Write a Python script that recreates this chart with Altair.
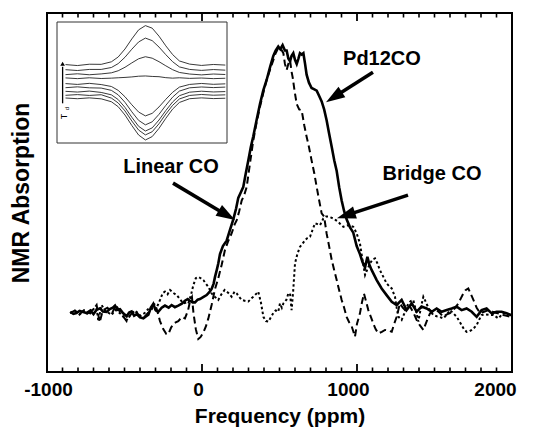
import math
import altair as alt
import pandas as pd

# ---------------- data ----------------
# Pd12CO (solid)
solid_ppm = [-850, -830, -810, -790, -766, -745, -720, -700, -680, -658, -640, -615, -595, -575, -561, -545,
             -529, -510, -486, -470, -454, -438, -421, -400, -378, -360, -346, -330, -314, -300, -282, -260,
             -239, -215, -196, -175, -153, -130, -110, -92, -77, -60, -45, -28, -13, 10, 30, 50, 62, 75, 84,
             95, 105, 116, 135, 159, 180, 202, 220, 234, 250, 266, 282, 299, 315, 331, 352, 374, 395, 417,
             440, 460, 475, 492, 505, 520, 535, 546, 557, 568, 578, 589, 600, 611, 622, 632, 643, 654, 665,
             675, 690, 707, 725, 740, 756, 772, 788, 804, 820, 837, 853, 869, 885, 901, 917, 933, 955, 976,
             998, 1019, 1036, 1052, 1067, 1080, 1095, 1127, 1159, 1191, 1224, 1256, 1288, 1320, 1353, 1385,
             1417, 1449, 1482, 1514, 1546, 1579, 1611, 1643, 1675, 1707, 1740, 1772, 1804, 1836, 1869, 1901,
             1933, 1965, 1998]
solid_abs = [0.005, -0.003, 0.0, 0.008, 0.004, 0.0, 0.01, -0.004, 0.012, 0.018, 0.006, 0.004, 0.015, 0.02,
             0.028, 0.012, 0.014, 0.0, -0.012, 0.002, 0.006, -0.01, -0.004, -0.016, -0.02, -0.012, -0.006,
             0.02, 0.034, 0.012, 0.005, 0.02, 0.028, 0.02, 0.03, 0.022, 0.028, 0.035, 0.046, 0.052, 0.045,
             0.04, 0.04, 0.05, 0.052, 0.06, 0.067, 0.08, 0.09, 0.11, 0.135, 0.16, 0.185, 0.22, 0.25, 0.27,
             0.31, 0.35, 0.39, 0.43, 0.45, 0.47, 0.52, 0.57, 0.62, 0.66, 0.72, 0.78, 0.83, 0.87, 0.92, 0.96,
             0.98, 0.995, 0.985, 1.0, 0.98, 0.98, 0.95, 0.94, 0.96, 0.97, 0.945, 0.93, 0.95, 0.97, 0.965,
             0.97, 0.93, 0.89, 0.86, 0.84, 0.835, 0.83, 0.81, 0.79, 0.76, 0.72, 0.67, 0.62, 0.57, 0.53, 0.47,
             0.42, 0.38, 0.35, 0.32, 0.30, 0.25, 0.22, 0.19, 0.17, 0.21, 0.18, 0.16, 0.123, 0.092, 0.067,
             0.042, 0.03, 0.049, 0.011, 0.036, 0.005, 0.024, 0.017, 0.005, 0.017, 0.005, 0.011, 0.017, 0.024,
             0.011, 0.017, 0.005, -0.014, 0.011, 0.017, -0.001, 0.005, 0.005, -0.001, -0.008]

# Linear CO (dashed)
linear_ppm = [-850, -820, -790, -760, -730, -700, -680, -660, -640, -610, -580, -555, -530, -505, -486, -465,
              -440, -410, -380, -350, -325, -303, -285, -271, -250, -230, -217, -200, -185, -170, -153, -130,
              -110, -90, -75, -65, -55, -40, -24, -10, 9, 25, 41, 62, 84, 105, 127, 148, 170, 191, 210, 224,
              240, 256, 272, 288, 310, 331, 352, 374, 395, 417, 440, 460, 475, 492, 510, 525, 535, 546, 557,
              568, 578, 585, 597, 611, 627, 643, 660, 675, 690, 707, 725, 740, 756, 772, 788, 804, 820, 837,
              853, 869, 885, 901, 917, 933, 950, 966, 977, 987, 1000, 1019, 1032, 1045, 1060, 1073, 1090,
              1105, 1120, 1138, 1160, 1181, 1200, 1224, 1240, 1256, 1277, 1295, 1310, 1325, 1342, 1365, 1385,
              1405, 1428, 1450, 1471, 1492, 1514, 1535, 1557, 1580, 1600, 1627, 1654, 1670, 1686, 1700, 1718,
              1735, 1751, 1772, 1794, 1820, 1848, 1875, 1901, 1925, 1944, 1965, 1990]
linear_abs = [0.0, 0.01, -0.005, 0.012, 0.0, 0.015, 0.03, -0.035, 0.01, 0.02, 0.0, 0.03, 0.005, -0.015, -0.03,
              -0.01, 0.01, -0.005, -0.02, 0.0, 0.02, 0.036, 0.0, -0.03, -0.06, -0.078, -0.078, -0.055, -0.04,
              -0.035, -0.03, -0.015, -0.02, 0.01, 0.05, 0.06, 0.0, -0.06, -0.097, -0.09, -0.072, -0.05, -0.02,
              0.03, 0.09, 0.13, 0.18, 0.235, 0.27, 0.297, 0.33, 0.347, 0.38, 0.42, 0.44, 0.47, 0.56, 0.645,
              0.71, 0.77, 0.82, 0.87, 0.91, 0.944, 0.97, 0.99, 0.985, 0.97, 0.93, 0.907, 0.93, 0.944, 0.90,
              0.88, 0.83, 0.78, 0.76, 0.757, 0.70, 0.658, 0.62, 0.57, 0.52, 0.47, 0.42, 0.372, 0.36, 0.297,
              0.25, 0.198, 0.16, 0.123, 0.085, 0.049, 0.02, -0.014, -0.035, -0.05, -0.07, -0.088, -0.04,
              -0.001, 0.04, 0.073, 0.04, 0.011, -0.015, -0.039, -0.06, -0.076, -0.07, -0.063, -0.065, -0.07,
              -0.04, -0.014, 0.036, 0.02, 0.011, 0.02, 0.024, 0.0, -0.026, -0.045, -0.063, -0.03, -0.001,
              0.008, 0.011, 0.0, -0.014, -0.005, 0.0, 0.015, 0.036, 0.055, 0.073, 0.085, 0.092, 0.07, 0.049,
              0.02, 0.0, 0.005, 0.011, 0.005, 0.0, -0.003, -0.007, -0.01, -0.014]

# Bridge CO (dotted)
bridge_ppm = [-850, -820, -790, -760, -730, -700, -680, -669, -648, -620, -600, -583, -560, -530, -505, -486,
              -460, -430, -400, -370, -340, -300, -270, -253, -239, -222, -206, -185, -163, -140, -120, -100,
              -88, -70, -56, -40, -24, -8, 9, 25, 41, 62, 84, 105, 125, 146, 170, 191, 210, 224, 240, 256, 280,
              299, 320, 342, 363, 380, 396, 412, 428, 445, 460, 475, 492, 503, 515, 525, 545, 557, 568, 578,
              588, 600, 615, 632, 650, 665, 680, 697, 713, 729, 745, 761, 772, 783, 800, 815, 830, 847, 863,
              880, 896, 912, 928, 944, 960, 976, 987, 998, 1008, 1019, 1035, 1052, 1068, 1084, 1100, 1116,
              1132, 1148, 1170, 1191, 1208, 1224, 1245, 1256, 1267, 1288, 1310, 1331, 1347, 1363, 1380, 1396,
              1412, 1428, 1445, 1460, 1476, 1492, 1514, 1535, 1557, 1580, 1600, 1620, 1643, 1660, 1675, 1690,
              1707, 1725, 1740, 1756, 1772, 1788, 1804, 1830, 1855, 1880, 1912, 1944, 1965, 1987]
bridge_abs = [0.0, 0.008, -0.005, 0.01, -0.008, 0.015, 0.02, -0.03, 0.03, 0.005, 0.0, -0.007, 0.012, 0.0,
              -0.015, -0.026, -0.005, 0.01, -0.01, 0.0, 0.02, 0.01, 0.05, 0.075, 0.08, 0.07, 0.086, 0.075,
              0.067, 0.05, 0.036, 0.04, 0.036, 0.07, 0.104, 0.13, 0.135, 0.13, 0.123, 0.11, 0.098, 0.073,
              0.06, 0.049, 0.07, 0.086, 0.075, 0.061, 0.08, 0.073, 0.06, 0.049, 0.045, 0.043, 0.055, 0.067,
              0.08, 0.04, -0.014, -0.03, -0.032, -0.015, 0.0, 0.01, 0.005, 0.036, 0.02, 0.036, 0.05, 0.073,
              0.073, 0.011, 0.08, 0.185, 0.22, 0.247, 0.26, 0.272, 0.28, 0.285, 0.31, 0.335, 0.332, 0.328,
              0.34, 0.353, 0.36, 0.36, 0.357, 0.353, 0.347, 0.34, 0.33, 0.322, 0.326, 0.328, 0.325, 0.322,
              0.31, 0.297, 0.28, 0.26, 0.2, 0.142, 0.165, 0.185, 0.2, 0.204, 0.185, 0.16, 0.135, 0.111, 0.1,
              0.092, 0.061, 0.02, -0.014, -0.026, 0.005, 0.036, 0.045, 0.049, 0.01, -0.032, 0.02, 0.061, 0.04,
              0.02, 0.005, -0.007, -0.012, -0.015, -0.02, -0.005, 0.011, 0.0, -0.014, -0.03, -0.045, -0.06,
              -0.07, -0.068, -0.063, -0.055, -0.045, -0.025, -0.007, -0.005, -0.007, -0.007, -0.02, 0.0,
              -0.004, -0.007]

# axis ticks / labels
tick_labels = [-1000, 0, 1000, 2000]
minor_ticks = [-900, -800, -700, -600, -500, -400, -300, -200, -100, 100, 200, 300, 400, 500, 600, 700, 800,
               900, 1100, 1200, 1300, 1400, 1500, 1600, 1700, 1800, 1900]
major_ticks = [0, 1000]

# annotations
ann_text = ["Pd12CO", "Linear CO", "Bridge CO"]
ann_ppm = [1161, -200, 1484]
ann_abs = [0.95, 0.545, 0.519]
arrow_tail_ppm = [1103, -187, 1329]
arrow_tail_abs = [0.899, 0.485, 0.44]
arrow_tip_ppm = [800, 213, 871]
arrow_tip_abs = [0.787, 0.347, 0.354]

# inset (temperature series), inset units 0-100
inset_x = [5, 12, 19, 26, 32, 36, 40, 44, 48, 52, 56, 60, 64, 68, 72, 78, 85, 92, 99]
inset_traces = [
    [64.8, 64.0, 65.1, 65.0, 67.1, 71.1, 77.7, 86.0, 93.5, 97.0, 94.9, 88.3, 80.3, 73.1, 67.8, 65.2, 64.1, 64.9, 64.4],
    [60.6, 59.9, 60.8, 60.8, 62.4, 65.6, 70.9, 77.5, 83.5, 86.7, 84.6, 79.3, 73.0, 67.2, 62.9, 60.8, 60.0, 60.7, 60.2],
    [56.5, 57.2, 56.4, 57.1, 58.0, 59.7, 62.6, 66.2, 69.6, 71.3, 70.1, 67.2, 63.8, 60.6, 58.3, 57.0, 56.3, 57.0, 56.6],
    [53.8, 53.2, 53.9, 53.3, 53.6, 53.9, 54.2, 54.6, 55.2, 55.4, 55.0, 54.8, 54.0, 53.6, 53.9, 53.4, 53.7, 53.2, 53.5],
    [49.1, 48.4, 49.3, 48.3, 46.7, 43.5, 38.2, 31.6, 25.6, 22.4, 24.5, 29.8, 36.1, 41.9, 46.2, 48.4, 49.2, 48.5, 48.9],
    [45.7, 46.4, 45.6, 45.4, 43.5, 39.8, 33.6, 25.8, 18.7, 15.0, 17.5, 23.7, 31.1, 37.9, 42.9, 45.6, 46.3, 45.8, 46.2],
    [42.7, 42.1, 42.9, 41.8, 39.8, 35.9, 29.4, 21.3, 13.8, 9.9, 12.5, 19.0, 26.8, 33.9, 39.1, 42.0, 42.8, 42.2, 42.5],
    [39.4, 40.0, 39.3, 39.9, 37.1, 33.1, 26.5, 18.2, 10.7, 6.7, 9.3, 15.9, 23.9, 31.1, 36.4, 39.3, 40.1, 39.5, 39.8],
    [37.2, 36.6, 37.3, 36.5, 34.1, 30.0, 23.1, 14.5, 6.6, 2.5, 5.3, 12.1, 20.4, 28.0, 33.5, 36.6, 37.3, 36.7, 37.0],
]
inset_arrow_x = [3.3]
inset_arrow_y = [32.8]
inset_arrow_y2 = [63.0]
inset_head_y = [65.5]
inset_T = ("T", 4.1, 21.9)
inset_d = ("d", 5.6, 28.5)

# ---------------- layout ----------------
PLOT_W, PLOT_H = 465, 359
X_MIN, X_MAX = -1000, 2000
Y_MIN, Y_MAX = -0.22, 1.12
FONT = "Liberation Sans"

xs = alt.Scale(domain=[X_MIN, X_MAX], nice=False, zero=False)
ys = alt.Scale(domain=[Y_MIN, Y_MAX], nice=False, zero=False)

x_axis = alt.Axis(
    values=tick_labels, ticks=False, domain=False, grid=False,
    labelExpr="'' + datum.value",
    labelFont=FONT, labelFontSize=19, labelFontWeight="bold", labelColor="black",
    labelPadding=8, labelFlush=False,
    labelOffset={"expr": "datum.value == 0 ? -4 : datum.value == 1000 ? -9 : datum.value == 2000 ? -17 : 1"},
    title="Frequency (ppm)", titleFont=FONT, titleFontSize=21, titleFontWeight="bold",
    titleColor="black", titlePadding=6,
)
y_axis = alt.Axis(
    labels=False, ticks=False, domain=False, grid=False,
    title="NMR Absorption", titleFont=FONT, titleFontSize=23, titleFontWeight="bold",
    titleColor="black", titlePadding=14,
)

def X(field):
    return alt.X(field, scale=xs, axis=x_axis)

def Y(field):
    return alt.Y(field, scale=ys, axis=y_axis)

def series_df(px, ab):
    return pd.DataFrame({"ppm": px, "a": ab})

dotted = alt.Chart(series_df(bridge_ppm, bridge_abs)).mark_line(
    color="black", strokeWidth=2.0, strokeDash=[2.5, 2.5]
).encode(x=X("ppm:Q"), y=Y("a:Q"))

dashed = alt.Chart(series_df(linear_ppm, linear_abs)).mark_line(
    color="black", strokeWidth=2.0, strokeDash=[7, 4]
).encode(x=X("ppm:Q"), y=Y("a:Q"))

solid = alt.Chart(series_df(solid_ppm, solid_abs)).mark_line(
    color="black", strokeWidth=2.6
).encode(x=X("ppm:Q"), y=Y("a:Q"))

def tick_layer(vals, y0, y1, w):
    return alt.Chart(pd.DataFrame({"ppm": vals})).mark_rule(color="black", strokeWidth=w).encode(
        x=X("ppm:Q"), y=alt.value(y0), y2=alt.value(y1)
    )

ticks = [
    tick_layer(minor_ticks, PLOT_H, PLOT_H - 4.5, 1.6),
    tick_layer(major_ticks, PLOT_H, PLOT_H - 8, 1.8),
    tick_layer(minor_ticks, 0, 4.5, 1.6),
    tick_layer(major_ticks, 0, 8, 1.8),
]

# arrows
PX_X = PLOT_W / (X_MAX - X_MIN)
PX_Y = PLOT_H / (Y_MAX - Y_MIN)
rows = []
for tx, ty, hx, hy in zip(arrow_tail_ppm, arrow_tail_abs, arrow_tip_ppm, arrow_tip_abs):
    dx = (hx - tx) * PX_X
    dy = -(hy - ty) * PX_Y
    L = math.hypot(dx, dy)
    ang = math.degrees(math.atan2(dx, -dy)) % 360
    back = 11.0 / L
    rows.append({"ppm": tx, "a": ty, "ppm2": hx - (hx - tx) * back, "a2": hy - (hy - ty) * back,
                 "hx": hx, "hy": hy, "ang": ang})
arrows = pd.DataFrame(rows)

shafts = alt.Chart(arrows).mark_rule(color="black", strokeWidth=3.5).encode(
    x=X("ppm:Q"), y=Y("a:Q"), x2="ppm2:Q", y2="a2:Q",
)
heads = alt.Chart(arrows).mark_point(
    shape="M0,0L-0.6,1.8L0.6,1.8Z", filled=True, color="black", opacity=1, size=440, strokeWidth=0
).encode(
    x=X("hx:Q"), y=Y("hy:Q"), angle=alt.Angle("ang:Q", scale=None),
)
labels = alt.Chart(pd.DataFrame({"ppm": ann_ppm, "a": ann_abs, "t": ann_text})).mark_text(
    font=FONT, fontSize=20, fontWeight="bold", color="black", align="center", baseline="middle"
).encode(x=X("ppm:Q"), y=Y("a:Q"), text="t:N")

main = alt.layer(dotted, dashed, solid, *ticks, shafts, heads, labels)

# ---------------- inset ----------------
ixs = alt.Scale(domain=[0, 100], range=[10, 180], nice=False, zero=False)
iys = alt.Scale(domain=[0, 100], range=[130, 9], nice=False, zero=False)

inset_rows = []
for k, tr in enumerate(inset_traces):
    for xv, yv in zip(inset_x, tr):
        inset_rows.append({"ix": xv, "iy": yv, "k": k})
inset_df = pd.DataFrame(inset_rows)

box = alt.Chart(pd.DataFrame({"ix": [0], "ix2": [100], "iy": [0], "iy2": [100]})).mark_rect(
    fill="white", stroke="#333", strokeWidth=1
).encode(x=alt.X("ix:Q", scale=ixs, axis=None), x2="ix2:Q",
         y=alt.Y("iy:Q", scale=iys, axis=None), y2="iy2:Q")

traces = alt.Chart(inset_df).mark_line(color="#222", strokeWidth=0.9).encode(
    x=alt.X("ix:Q", scale=ixs, axis=None), y=alt.Y("iy:Q", scale=iys, axis=None), detail="k:N"
)
iarrow = alt.Chart(pd.DataFrame({"ix": inset_arrow_x, "iy": inset_arrow_y, "iy2": inset_arrow_y2})).mark_rule(
    color="black", strokeWidth=1.3
).encode(x=alt.X("ix:Q", scale=ixs, axis=None), y=alt.Y("iy:Q", scale=iys, axis=None), y2="iy2:Q")
ihead = alt.Chart(pd.DataFrame({"ix": inset_arrow_x, "iy": inset_head_y})).mark_point(
    shape="triangle-up", filled=True, color="black", opacity=1, size=22
).encode(x=alt.X("ix:Q", scale=ixs, axis=None), y=alt.Y("iy:Q", scale=iys, axis=None))
itext = alt.Chart(pd.DataFrame({
    "ix": [inset_T[1], inset_d[1]], "iy": [inset_T[2], inset_d[2]],
    "t": [inset_T[0], inset_d[0]], "fs": [9, 6]
})).mark_text(font=FONT, color="black", angle=270, align="center", baseline="middle").encode(
    x=alt.X("ix:Q", scale=ixs, axis=None), y=alt.Y("iy:Q", scale=iys, axis=None), text="t:N",
    size=alt.Size("fs:Q", scale=None, legend=None),
)

inset = alt.layer(box, traces, iarrow, ihead, itext)

chart = alt.layer(main, inset).resolve_scale(x="independent", y="independent").properties(
    width=PLOT_W, height=PLOT_H,
    autosize=alt.AutoSizeParams(type="none"),
    padding={"left": 47, "top": 13, "right": 28, "bottom": 59},
).configure(background="white").configure_view(stroke="black", strokeWidth=2)

chart.save("out.html", embed_options={"renderer": "svg", "actions": False})
